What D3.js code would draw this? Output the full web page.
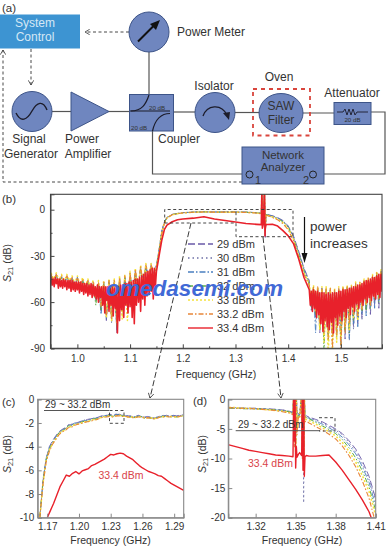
<!DOCTYPE html>
<html>
<head>
<meta charset="utf-8">
<script src="https://d3js.org/d3.v7.min.js"></script>
<style>
  html, body { margin: 0; padding: 0; background: #fff; }
  svg { display: block; font-family: "Liberation Sans", Arial, sans-serif; }
  text { fill: #333; }
</style>
</head>
<body>
<div id="chart"></div>
<script>
// Legend and series styles
const powers = ["29 dBm", "30 dBm", "31 dBm", "32 dBm", "33 dBm", "33.2 dBm", "33.4 dBm"];
const colors = ["#6a5aa8", "#6d6fa6", "#4a7fc0", "#5fae45", "#f5e23c", "#e8863a", "#e8212b"];
const dashes = ["7,3", "1.5,3", "6,2,1.5,2", "5,2,1.5,2,1.5,2", "2,2", "5,2,1.5,2", null];
const widths = [0.9, 0.9, 0.9, 1, 1.5, 1.1];

// Panel (b) axis ticks
const ticksBx = [1.0, 1.1, 1.2, 1.3, 1.4, 1.5];
const minorBx = [1.05, 1.15, 1.25, 1.35, 1.45, 1.55];
const ticksBy = [0, -30, -60, -90];
const minorBy = [-15, -45, -75];

// Panel (b) frequency grids, GHz
const freqLowFine = d3.range(0.95, 1.15, 0.002);
const freqHighFine = d3.range(1.44, 1.582, 0.002);
const freqLow = d3.range(0.95, 1.147, 0.005);
const freqHigh = d3.range(1.44, 1.582, 0.004);
const freqPass = [1.15, 1.155, 1.16, 1.165, 1.17, 1.18, 1.19, 1.2, 1.22, 1.24, 1.26, 1.28, 1.3, 1.32, 1.34, 1.349, 1.35, 1.351, 1.353, 1.355, 1.356, 1.3565, 1.358, 1.36, 1.37, 1.38, 1.39, 1.4, 1.41, 1.42, 1.43, 1.44];

// Panel (b) lower stop band, dB
const low29 = [-43,-46,-42,-47,-44,-48,-43,-47,-45,-49,-44,-50,-46,-50,-47,-52,-48,-58,-49,-66,-47,-72,-46,-70,-47,-80,-45,-63,-44,-60,-42,-55,-40,-52,-38,-48,-36,-45,-36,-42];
const low30 = [-42,-47,-43,-46,-44,-49,-44,-48,-44,-50,-45,-49,-46,-51,-47,-53,-47,-60,-48,-64,-48,-70,-47,-74,-46,-72,-46,-66,-43,-58,-43,-56,-41,-50,-37,-47,-37,-46,-35,-43];
const low31 = [-43,-48,-43,-47,-43,-48,-45,-47,-45,-51,-44,-49,-47,-50,-46,-54,-48,-56,-49,-68,-47,-71,-46,-66,-47,-78,-44,-62,-44,-61,-41,-54,-40,-53,-38,-46,-36,-47,-36,-44];
const low32 = [-42,-46,-44,-48,-44,-47,-44,-49,-46,-48,-45,-50,-46,-52,-47,-51,-48,-62,-48,-65,-48,-69,-47,-72,-47,-76,-45,-68,-44,-64,-43,-58,-41,-52,-39,-49,-37,-44,-37,-45];
const low33 = [-41,-45,-41,-46,-42,-47,-42,-46,-43,-48,-43,-49,-44,-50,-45,-51,-46,-56,-46,-62,-46,-70,-45,-72,-45,-74,-43,-71,-42,-72,-40,-60,-38,-54,-36,-50,-35,-47,-35,-44];
const low332 = [-42,-46,-42,-47,-43,-48,-43,-47,-44,-49,-44,-50,-45,-51,-46,-52,-47,-57,-47,-63,-47,-69,-46,-71,-46,-73,-44,-65,-43,-61,-41,-57,-39,-51,-37,-48,-36,-46,-36,-43];
const lowRed = [
  -44,-49,-45,-50,-44,-48,-45,-51,-45,-50,
  -46,-51,-45,-50,-46,-52,-46,-51,-46,-53,
  -46,-52,-47,-53,-47,-52,-47,-54,-47,-53,
  -48,-55,-48,-54,-48,-56,-49,-55,-48,-57,
  -49,-56,-50,-58,-49,-60,-50,-57,-50,-62,
  -50,-67,-50,-59,-50,-66,-51,-62,-50,-69,
  -51,-64,-50,-80,-50,-72,-49,-65,-49,-70,
  -48,-62,-48,-67,-47,-63,-47,-70,-46,-74,
  -45,-62,-45,-60,-44,-66,-43,-58,-42,-62,
  -41,-56,-40,-55,-39,-53,-38,-58,-38,-50
];

// Panel (b) pass band, dB
const pass29 = [-36,-26,-14,-8,-5,-3,-2.4,-1.9,-1.5,-1.3,-1.5,-1.4,-1.4,-1.5,-1.9,-2.2,12,-6,-2.6,12,-4,-18,-2.8,-3.1,-3.9,-5.1,-7,-10.5,-17,-27,-38,-46];
const pass30 = [-36,-26,-14,-8,-5,-3.1,-2.4,-1.9,-1.6,-1.3,-1.5,-1.5,-1.4,-1.6,-1.9,-2.3,12,-6,-2.7,12,-4,-17,-2.9,-3.2,-4,-5.3,-7.2,-10.8,-17.4,-27.5,-38,-47];
const pass31 = [-37,-26,-15,-8,-5.1,-3.1,-2.5,-2,-1.6,-1.4,-1.5,-1.5,-1.5,-1.6,-2,-2.3,12,-7,-2.7,12,-5,-15,-3,-3.3,-4.2,-5.5,-7.5,-11,-18,-28,-39,-47];
const pass32 = [-37,-27,-15,-8.5,-5.2,-3.2,-2.5,-2,-1.6,-1.4,-1.6,-1.5,-1.5,-1.7,-2,-2.4,12,-7,-2.8,12,-5,-14,-3.1,-3.4,-4.4,-5.8,-7.9,-11.5,-18.6,-29,-40,-48];
const pass33 = [-37,-27,-15,-8.5,-5.3,-3.2,-2.6,-2.1,-1.7,-1.4,-1.6,-1.6,-1.6,-1.7,-2.1,-2.5,12,-8,-2.9,12,-6,-13,-3.2,-3.6,-4.7,-6.2,-8.4,-12.2,-19.2,-30,-41,-48];
const pass332 = [-38,-28,-16,-9,-5.4,-3.3,-2.6,-2.1,-1.7,-1.5,-1.6,-1.6,-1.6,-1.8,-2.2,-2.6,12,-9,-3,12,-6,-12,-3.4,-3.8,-5,-6.6,-9,-13,-20,-31,-42,-49];
const passRed = [-40,-30,-20,-13,-10,-7.8,-6.5,-6,-5.5,-4.6,-6,-7,-8,-9,-9.5,-9.7,12,-12,-9.2,12,-17,-12,-9.6,-9.6,-9.5,-10.6,-13.6,-17,-22,-32,-44,-52];

// Panel (b) upper stop band, dB
const high29 = [-50,-64,-51,-70,-52,-80,-51,-72,-52,-74,-52,-78,-53,-72,-52,-88,-52,-84,-51,-80,-50,-76,-50,-74,-49,-70,-48,-66,-46,-68,-44,-62,-42,-64,-41,-56];
const high30 = [-51,-62,-52,-72,-51,-74,-52,-76,-52,-72,-53,-80,-52,-76,-52,-82,-51,-78,-51,-85,-50,-78,-49,-72,-48,-72,-47,-64,-45,-66,-43,-60,-42,-62,-40,-58];
const high31 = [-50,-66,-51,-80,-51,-78,-52,-76,-52,-82,-52,-74,-53,-80,-51,-76,-52,-80,-50,-84,-50,-74,-49,-76,-48,-68,-47,-69,-45,-63,-44,-64,-41,-60,-40,-57];
const high32 = [-49,-63,-50,-68,-51,-77,-51,-92,-51,-85,-52,-84,-52,-83,-52,-88,-51,-78,-50,-80,-49,-72,-48,-70,-48,-66,-46,-65,-45,-64,-43,-58,-41,-60,-40,-54];
const high33 = [-48,-60,-49,-66,-50,-78,-50,-86,-50,-95,-51,-92,-51,-86,-50,-84,-50,-76,-49,-78,-49,-70,-47,-72,-47,-64,-45,-62,-44,-60,-42,-56,-40,-56,-39,-52];
const high332 = [-49,-61,-50,-65,-50,-74,-51,-80,-51,-84,-51,-90,-52,-82,-51,-92,-50,-80,-50,-74,-49,-68,-48,-69,-47,-65,-46,-61,-44,-62,-43,-57,-41,-58,-40,-53];
const highRed = [
  -52,-62,-53,-66,-52,-64,-53,-70,-53,-68,
  -54,-74,-54,-79,-54,-72,-55,-76,-54,-78,
  -55,-73,-54,-80,-54,-70,-54,-75,-53,-69,
  -53,-72,-52,-66,-52,-70,-52,-64,-51,-68,
  -51,-63,-50,-66,-50,-61,-49,-64,-49,-60,
  -48,-62,-47,-58,-46,-60,-46,-57,-45,-59,
  -44,-56,-44,-58,-43,-55,-42,-57,-42,-53,-41
];

// Panel (c) zoom on the lower pass band
const ticksCx = [1.17, 1.20, 1.23, 1.26, 1.29];
const ticksCy = [0, -2, -4, -6, -8, -10];
const freqC = d3.range(1.163, 1.2985, 0.003);
const zoomC29 = [-10,-6.8,-5,-4,-3.5,-3.1,-2.75,-2.55,-2.4,-2.15,-2.15,-2,-1.95,-1.85,-1.8,-1.7,-1.65,-1.6,-1.55,-1.45,-1.35,-1.4,-1.25,-1.35,-1.25,-1.3,-1.3,-1.4,-1.4,-1.4,-1.5,-1.35,-1.45,-1.5,-1.45,-1.55,-1.6,-1.5,-1.4,-1.4,-1.35,-1.45,-1.35,-1.4,-1.35,-1.3];
const zoomC30 = [-10,-6.9,-5.1,-4.1,-3.6,-3.15,-2.8,-2.6,-2.45,-2.2,-2.1,-2.05,-1.95,-1.9,-1.75,-1.75,-1.7,-1.6,-1.6,-1.5,-1.4,-1.35,-1.3,-1.4,-1.3,-1.25,-1.35,-1.35,-1.45,-1.45,-1.45,-1.4,-1.5,-1.55,-1.5,-1.5,-1.6,-1.55,-1.45,-1.35,-1.4,-1.4,-1.4,-1.45,-1.4,-1.3];
const zoomC31 = [-10,-6.9,-5,-4.1,-3.6,-3.2,-2.8,-2.6,-2.5,-2.2,-2.2,-2,-2,-1.9,-1.8,-1.8,-1.7,-1.6,-1.6,-1.5,-1.4,-1.4,-1.3,-1.4,-1.3,-1.3,-1.35,-1.4,-1.45,-1.45,-1.5,-1.4,-1.45,-1.55,-1.5,-1.55,-1.6,-1.5,-1.45,-1.4,-1.4,-1.45,-1.4,-1.45,-1.4,-1.35];
const zoomC32 = [-10,-7,-5.1,-4.2,-3.7,-3.25,-2.85,-2.65,-2.5,-2.25,-2.25,-2.1,-2.05,-1.95,-1.85,-1.85,-1.75,-1.65,-1.65,-1.55,-1.45,-1.45,-1.35,-1.45,-1.35,-1.35,-1.4,-1.45,-1.5,-1.5,-1.55,-1.45,-1.45,-1.6,-1.55,-1.6,-1.65,-1.55,-1.5,-1.45,-1.45,-1.5,-1.45,-1.5,-1.45,-1.4];
const zoomC33 = [-10,-7.1,-5.2,-4.3,-3.75,-3.35,-2.95,-2.7,-2.6,-2.35,-2.3,-2.15,-2.1,-2,-1.9,-1.9,-1.8,-1.7,-1.7,-1.55,-1.5,-1.45,-1.4,-1.45,-1.4,-1.35,-1.4,-1.45,-1.5,-1.5,-1.55,-1.45,-1.5,-1.55,-1.55,-1.55,-1.65,-1.55,-1.5,-1.45,-1.45,-1.45,-1.45,-1.5,-1.45,-1.4];
const zoomC332 = [-10,-7.2,-5.3,-4.4,-3.8,-3.4,-3,-2.75,-2.65,-2.4,-2.35,-2.2,-2.1,-2.05,-1.95,-1.9,-1.85,-1.75,-1.7,-1.6,-1.5,-1.5,-1.45,-1.5,-1.4,-1.4,-1.45,-1.45,-1.5,-1.55,-1.55,-1.5,-1.5,-1.6,-1.55,-1.6,-1.65,-1.6,-1.5,-1.5,-1.45,-1.5,-1.45,-1.5,-1.45,-1.4];
const freqCRed = d3.range(1.17, 1.3, 0.003);
const zoomCRed = [-10,-9.4,-8.8,-8.1,-7.4,-6.9,-6.4,-6.5,-6.25,-6.1,-6.3,-6.05,-5.95,-5.85,-5.6,-5.5,-5.35,-5.2,-5.05,-4.85,-4.65,-4.7,-4.6,-4.55,-4.6,-4.8,-4.95,-5.1,-5.35,-5.6,-5.8,-5.95,-6.1,-6.2,-6.3,-6.45,-6.5,-6.7,-6.9,-7.1,-7.25,-7.4,-7.55,-7.7];

// Panel (d) zoom on the upper pass band
const ticksDx = [1.32, 1.35, 1.38, 1.41];
const ticksDy = [0, -5, -10, -15, -20];
const freqD = [1.30, 1.305, 1.31, 1.315, 1.32, 1.325, 1.33, 1.335, 1.34, 1.345, 1.348, 1.3485, 1.349, 1.3495, 1.35, 1.3505, 1.351, 1.352, 1.353, 1.3545, 1.355, 1.3555, 1.356, 1.3565, 1.357, 1.358, 1.36, 1.365, 1.37, 1.375, 1.38, 1.385, 1.39, 1.395, 1.40, 1.405, 1.41];
const zoomD29 = [-1.4,-1.4,-1.5,-1.5,-1.5,-1.6,-1.6,-1.7,-1.8,-2,-2.2,1,-4,1,-5,1,-2.2,-2.4,-2.5,1,-5,1,-5,1,-3,-2.8,-3,-3.4,-3.8,-4.4,-5,-5.8,-7,-8.4,-10.4,-13,-16.8];
const zoomD30 = [-1.4,-1.5,-1.5,-1.5,-1.6,-1.6,-1.7,-1.7,-1.8,-2,-2.3,1,-5,1,-6,1,-2.4,-2.5,-2.6,1,-6,1,-17.5,1,-3,-2.9,-3.1,-3.5,-4,-4.6,-5.2,-6,-7.3,-8.8,-10.9,-13.5,-17.2];
const zoomD31 = [-1.5,-1.5,-1.5,-1.6,-1.6,-1.6,-1.7,-1.8,-1.9,-2.1,-2.4,1,-5,1,-7,1,-3,-2.6,-2.7,1,-7,1,-8,1,-3.1,-3,-3.2,-3.7,-4.2,-4.8,-5.5,-6.4,-7.7,-9.2,-11.4,-14,-18];
const zoomD32 = [-1.5,-1.5,-1.6,-1.6,-1.6,-1.7,-1.7,-1.8,-1.9,-2.1,-2.4,1,-6,1,-8,1,-4,-2.7,-2.8,1,-8,1,-10,1,-3.2,-3.1,-3.3,-3.9,-4.5,-5.1,-5.8,-6.8,-8.2,-9.9,-12.1,-14.8,-18.8];
const zoomD33 = [-1.4,-1.4,-1.5,-1.5,-1.6,-1.7,-1.8,-1.9,-2,-2.2,-2.5,1,-7,1,-9,1,-5,-2.8,-3,1,-9,1,-11,1,-3.5,-3.4,-3.6,-4.2,-4.8,-5.5,-6.2,-7.3,-8.8,-10.6,-12.9,-15.6,-19.6];
const zoomD332 = [-1.4,-1.5,-1.5,-1.6,-1.6,-1.7,-1.8,-1.9,-2.1,-2.3,-2.6,1,-8,1,-10,1,-6,-3,-3.2,1,-10,1,-12,1,-3.8,-3.7,-4,-4.6,-5.2,-5.9,-6.7,-7.9,-9.5,-11.4,-13.8,-16.7,-21];
const zoomDRed = [-7.7,-8,-8.3,-8.6,-8.8,-9,-9.2,-9.4,-9.5,-9.6,-9.7,1,-7,1,-11.6,-8,-9.8,-9.3,-9,-9.5,1,-12,1,-13,-9.7,-9.5,-9.6,-9.6,-9.5,-9.4,-10.6,-12,-13.6,-15.2,-17,-19,-22];

const width = 387;
const height = 550;

const svg = d3
  .select("#chart")
  .append("svg")
  .attr("width", width)
  .attr("height", height);

// Small text helper
function label(x, y, str, opts = {}) {
  const t = svg
    .append("text")
    .attr("x", x)
    .attr("y", y)
    .attr("font-size", opts.size || 12)
    .attr("text-anchor", opts.anchor || "start")
    .text(str);
  if (opts.color) t.style("fill", opts.color);
  return t;
}

// ---------- Panel (a): measurement setup ----------
const blockFill = "#6f86bf";
const blockStroke = "#3d5488";
const wire = "#555";

svg
  .append("defs")
  .append("marker")
  .attr("id", "open")
  .attr("viewBox", "0 0 8 8")
  .attr("refX", 7)
  .attr("refY", 4)
  .attr("markerWidth", 7)
  .attr("markerHeight", 7)
  .attr("orient", "auto")
  .append("path")
  .attr("d", "M1,0.5 L7,4 L1,7.5")
  .attr("fill", "none")
  .attr("stroke", "#333")
  .attr("stroke-width", 1);

function wirePath(d) {
  svg.append("path").attr("d", d).attr("fill", "none").attr("stroke", wire).attr("stroke-width", 1.2);
}
function dashPath(d, arrow) {
  const p = svg
    .append("path")
    .attr("d", d)
    .attr("fill", "none")
    .attr("stroke", "#333")
    .attr("stroke-width", 0.9)
    .attr("stroke-dasharray", "3,2.5");
  if (arrow) p.attr("marker-end", "url(#open)");
}
function block(x, y, w, h) {
  svg.append("rect").attr("x", x).attr("y", y).attr("width", w).attr("height", h)
    .attr("fill", blockFill).attr("stroke", blockStroke).attr("stroke-width", 1);
}
function circle(cx, cy, r) {
  svg.append("circle").attr("cx", cx).attr("cy", cy).attr("r", r)
    .attr("fill", blockFill).attr("stroke", blockStroke).attr("stroke-width", 1);
}
function glyph(d, w) {
  svg.append("path").attr("d", d).attr("fill", "none").attr("stroke", "#1c1c2a").attr("stroke-width", w || 1.2);
}

label(2, 12, "(a)", { size: 11.5 });

// wires go first so the blocks sit on top
wirePath("M149,50 V95");
wirePath("M52,111.5 H72");
wirePath("M108,111.5 H130");
wirePath("M173,112 H196");
wirePath("M234,112.5 H260");
wirePath("M302,113 H335");
wirePath("M370,112 H385 V174 H320");
wirePath("M152.5,126 V174 H245");

svg.append("rect").attr("x", 0).attr("y", 14.5).attr("width", 80).attr("height", 34).attr("fill", "#3d94d2");
label(35, 27, "System", { anchor: "middle", color: "#d5e8f5" });
label(35, 40.5, "Control", { anchor: "middle", color: "#d5e8f5" });

dashPath("M129,32 H85", true);
dashPath("M31,49 V85", true);
dashPath("M242,182 H3 V50", true);

circle(149, 32, 20);
svg.append("path").attr("d", "M138,41.5 L155,24.5").attr("stroke", "#111").attr("stroke-width", 2);
svg.append("path").attr("d", "M160,20 L150,24 L156,30 Z").attr("fill", "#111");
label(177, 36, "Power Meter");

circle(32, 111.5, 20);
glyph("M16,113 C21,123 27,120 32,111 C37,102 43,100 47,110", 1.4);
label(29, 143, "Signal", { anchor: "middle" });
label(31, 158, "Generator", { anchor: "middle" });

svg.append("path").attr("d", "M71,92 L109,111.5 L71,131 Z").attr("fill", blockFill).attr("stroke", blockStroke);
label(82, 143, "Power", { anchor: "middle" });
label(88, 158, "Amplifier", { anchor: "middle" });

block(129.5, 94.5, 44, 36.5);
glyph("M130,111 H170");
glyph("M131,111 C142,111 146,104 149,95");
glyph("M170,113.5 C160,113.5 155,120 152.5,131");
label(149, 110, "20 dB", { size: 6.2 });
label(131, 129.5, "20 dB", { size: 6.2 });
label(158, 143, "Coupler");

circle(215, 112.5, 20);
glyph("M203,116 C207,105 221,103 227,115", 1.3);
svg.append("path").attr("d", "M229,120 L223,113 L230,112 Z").attr("fill", "#1c1c2a");
label(214, 90, "Isolator", { anchor: "middle" });

svg.append("rect").attr("x", 253).attr("y", 89).attr("width", 57).attr("height", 46.5)
  .attr("fill", "none").attr("stroke", "#d9453c").attr("stroke-width", 1.8).attr("stroke-dasharray", "4,4");
svg.append("ellipse").attr("cx", 281).attr("cy", 113).attr("rx", 22).attr("ry", 19.5)
  .attr("fill", blockFill).attr("stroke", blockStroke);
label(281, 110, "SAW", { anchor: "middle" });
label(281, 124, "Filter", { anchor: "middle" });
label(279, 81, "Oven", { anchor: "middle" });

block(334, 102.5, 37, 22);
glyph("M337,112 H343 L345,109 L347,115 L349,109 L351,115 L353,109 L355,115 L357,112 H368", 0.9);
label(352.5, 122, "20 dB", { size: 6.2, anchor: "middle" });
label(352, 97, "Attenuator", { anchor: "middle" });

block(242, 147, 82, 37);
label(283, 159, "Network", { anchor: "middle", size: 11.5 });
label(283, 170.5, "Analyzer", { anchor: "middle", size: 11.5 });
svg.append("circle").attr("cx", 249.5).attr("cy", 174.5).attr("r", 3.5).attr("fill", blockFill).attr("stroke", "#222");
svg.append("circle").attr("cx", 313).attr("cy", 174.5).attr("r", 3.5).attr("fill", blockFill).attr("stroke", "#222");
label(255, 184, "1", { size: 11 });
label(303, 184, "2", { size: 11 });

// ---------- Plot panels ----------
function makePanel(id, box, xDomain, yDomain, xTicks, yTicks, xFormat, yFormat, xMinor, yMinor, frameColor, padX, padY) {
  const x = d3.scaleLinear().domain(xDomain).range([box.left, box.right]);
  const y = d3.scaleLinear().domain(yDomain).range([box.bottom, box.top]);

  svg.append("clipPath").attr("id", id)
    .append("rect")
    .attr("x", box.left).attr("y", box.top)
    .attr("width", box.right - box.left).attr("height", box.bottom - box.top);

  const plot = svg.append("g").attr("clip-path", `url(#${id})`);

  const axes = () => {
    svg.append("rect")
      .attr("x", box.left).attr("y", box.top)
      .attr("width", box.right - box.left).attr("height", box.bottom - box.top)
      .attr("fill", "none").attr("stroke", frameColor).attr("stroke-width", 1.1);

    const ax = svg.append("g")
      .attr("transform", `translate(0,${box.bottom})`)
      .call(d3.axisBottom(x).tickValues(xTicks).tickFormat(xFormat).tickSize(-4).tickPadding(padX));
    const ay = svg.append("g")
      .attr("transform", `translate(${box.left},0)`)
      .call(d3.axisLeft(y).tickValues(yTicks).tickFormat(yFormat).tickSize(-4).tickPadding(padY));
    [ax, ay].forEach((g) => {
      g.select(".domain").attr("stroke", frameColor);
      g.selectAll(".tick line").attr("stroke", frameColor);
      g.selectAll("text").attr("font-size", 10).attr("font-family", "Liberation Sans");
    });
    if (xMinor) {
      svg.append("g").attr("transform", `translate(0,${box.bottom})`)
        .call(d3.axisBottom(x).tickValues(xMinor).tickFormat("").tickSize(-2))
        .call((g) => g.select(".domain").remove())
        .selectAll("line").attr("stroke", frameColor);
      svg.append("g").attr("transform", `translate(${box.left},0)`)
        .call(d3.axisLeft(y).tickValues(yMinor).tickFormat("").tickSize(-2))
        .call((g) => g.select(".domain").remove())
        .selectAll("line").attr("stroke", frameColor);
    }
  };

  const trace = (xs, ys, i, w) => {
    const line = d3.line().x((d) => x(d[0])).y((d) => y(d[1]));
    plot.append("path")
      .datum(xs.map((f, k) => [f, ys[k]]))
      .attr("d", line)
      .attr("fill", "none")
      .attr("stroke", colors[i])
      .attr("stroke-width", w)
      .attr("stroke-linejoin", "round")
      .attr("stroke-dasharray", dashes[i]);
  };

  return { trace, axes };
}

function yTitle(xPos, yPos) {
  const t = svg.append("text")
    .attr("transform", `translate(${xPos},${yPos}) rotate(-90)`)
    .attr("text-anchor", "middle")
    .attr("font-size", 10.5);
  t.append("tspan").attr("font-style", "italic").text("S");
  t.append("tspan").attr("font-size", 7.5).attr("dy", 2).text("21");
  t.append("tspan").attr("dy", -2).text(" (dB)");
}

// Panel (b)
const fmt1 = d3.format(".1f");
const fmt2 = d3.format(".2f");
const fmt0 = (d) => d3.format("d")(d).replace("\u2212", "-");

const panelB = makePanel("clipB", { left: 50.5, right: 382, top: 194.3, bottom: 348.3 },
  [0.949, 1.578], [-90, 10], ticksBx, ticksBy, fmt1, fmt0, minorBx, minorBy, "#444", 7, 5.5);

const lowsB = [low29, low30, low31, low32, low33, low332];
const passB = [pass29, pass30, pass31, pass32, pass33, pass332];
const highsB = [high29, high30, high31, high32, high33, high332];
const freqB = freqLow.concat(freqPass, freqHigh);
lowsB.forEach((lo, i) => panelB.trace(freqB, lo.concat(passB[i], highsB[i]), i, widths[i]));
panelB.trace(
  freqLowFine.concat(freqPass, freqHighFine),
  lowRed.concat(passRed, highRed),
  6,
  1.6
);
panelB.axes();

label(2, 203, "(b)", { size: 11.5 });
yTitle(11, 263);
label(216, 378, "Frequency (GHz)", { size: 10.5, anchor: "middle" });

// Dashed zoom regions and guide lines
dashPath("M164.7,223 V209.5 H293 V236.7 H236 V209.5");
dashPath("M164.7,223 H236");
svg.append("path").attr("d", "M191,223 L150,398").attr("fill", "none").attr("stroke", "#222")
  .attr("stroke-width", 0.9).attr("stroke-dasharray", "6,2.5").attr("marker-end", "url(#open)");
svg.append("path").attr("d", "M263,237 L281,398").attr("fill", "none").attr("stroke", "#222")
  .attr("stroke-width", 0.9).attr("stroke-dasharray", "6,2.5").attr("marker-end", "url(#open)");

// Power arrow
svg.append("path").attr("d", "M304.5,217 V258").attr("stroke", "#111").attr("stroke-width", 1.2);
svg.append("path").attr("d", "M304.5,263 L301.5,253 L307.5,253 Z").attr("fill", "#111");
label(310, 231, "power", { size: 13.5 });
label(310, 248, "increases", { size: 13.5 });

// Legend
const legendRows = [244, 258, 272, 286, 300, 314, 328];
powers.forEach((p, i) => {
  svg.append("line")
    .attr("x1", 188).attr("x2", 213)
    .attr("y1", legendRows[i]).attr("y2", legendRows[i])
    .attr("stroke", colors[i])
    .attr("stroke-width", i === 6 ? 1.4 : 1.5)
    .attr("stroke-dasharray", dashes[i]);
  label(217, legendRows[i] + 4, p, { size: 11 });
});

// Watermark
svg.append("text")
  .attr("x", 106).attr("y", 296)
  .attr("font-size", 22.6)
  .attr("font-weight", "bold")
  .attr("font-style", "italic")
  .style("fill", "#4169d6")
  .text("omedasemi.com");

// Panel (c)
const panelC = makePanel("clipC", { left: 37.7, right: 183.7, top: 399.3, bottom: 517.7 },
  [1.161, 1.299], [-10, 0], ticksCx, ticksCy, fmt2, fmt0, null, null, "#888", 5, 3.5);
[zoomC29, zoomC30, zoomC31, zoomC32, zoomC33, zoomC332].forEach((ys, i) => panelC.trace(freqC, ys, i, widths[i]));
panelC.trace(freqCRed, zoomCRed, 6, 1.4);
panelC.axes();

label(2, 406, "(c)", { size: 11.5 });
yTitle(11, 454);
label(110.5, 544, "Frequency (GHz)", { size: 10.5, anchor: "middle" });
label(45, 408, "29 ~ 33.2 dBm", { size: 10 });
svg.append("line").attr("x1", 44).attr("x2", 109).attr("y1", 410.5).attr("y2", 410.5).attr("stroke", "#555");
dashPath("M109.5,410.5 H124 V423.3 H109.5 Z");
label(121, 479, "33.4 dBm", { size: 10.5, anchor: "middle", color: "#d9434a" });

// Panel (d)
const panelD = makePanel("clipD", { left: 228.3, right: 375.7, top: 399.3, bottom: 517.7 },
  [1.2995, 1.41], [-20, 0], ticksDx, ticksDy, fmt2, fmt0, null, null, "#888", 5, 3);
[zoomD29, zoomD30, zoomD31, zoomD32, zoomD33, zoomD332].forEach((ys, i) => panelD.trace(freqD, ys, i, widths[i]));
panelD.trace(freqD, zoomDRed, 6, 1.4);
panelD.axes();

label(193, 405, "(d)", { size: 11.5 });
yTitle(206, 454);
label(302, 544, "Frequency (GHz)", { size: 10.5, anchor: "middle" });
label(238, 428, "29 ~ 33.2 dBm", { size: 10 });
svg.append("line").attr("x1", 235.7).attr("x2", 320).attr("y1", 430.7).attr("y2", 430.7).attr("stroke", "#555");
dashPath("M319,417.7 H335 V431 H319");
label(248, 467, "33.4 dBm", { size: 10.5, color: "#d9434a" });
</script>
</body>
</html>
